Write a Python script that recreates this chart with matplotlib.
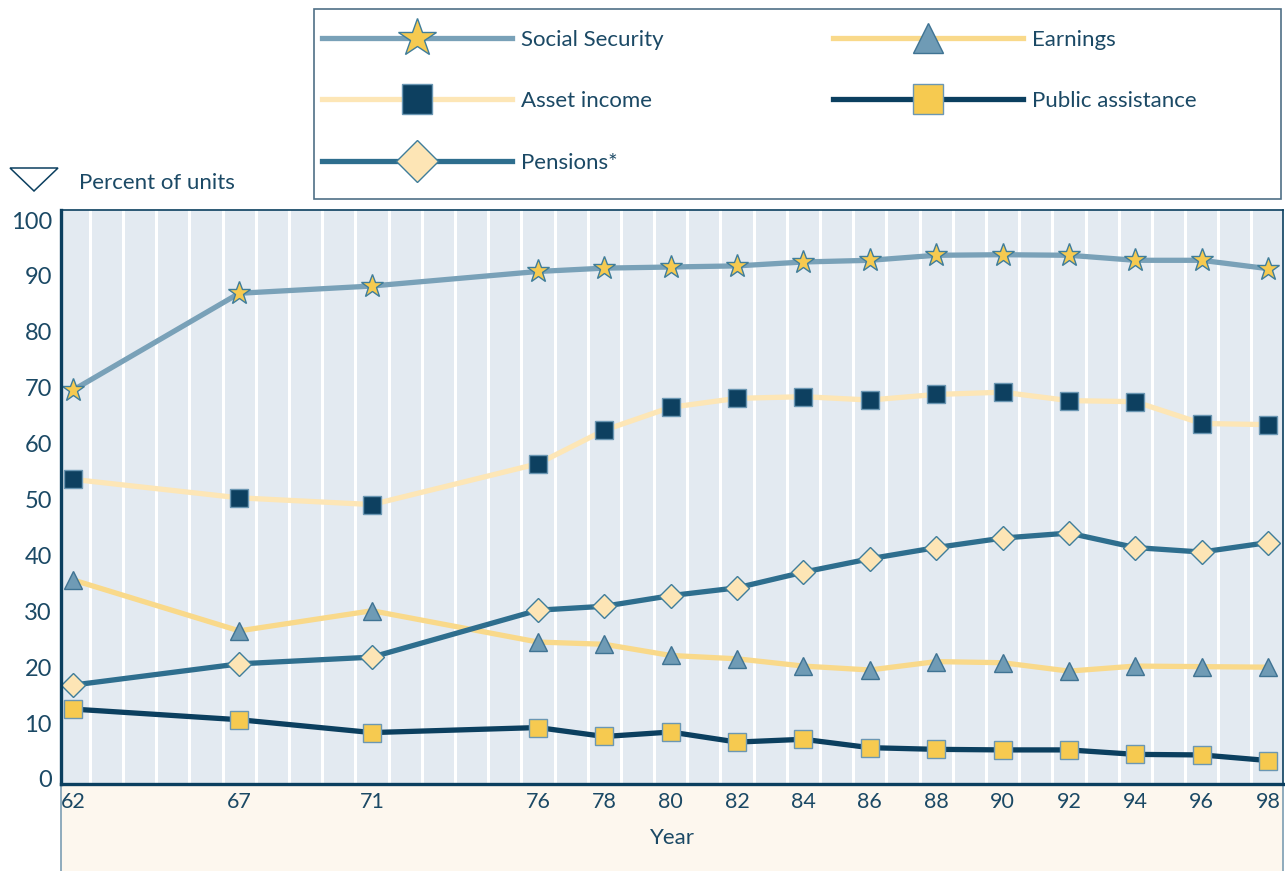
import matplotlib.pyplot as plt
import numpy as np
from matplotlib.patches import Polygon, Rectangle

# data (percent of aged units with income from each source)
years = [62, 67, 71, 76, 78, 80, 82, 84, 86, 88, 90, 92, 94, 96, 98]
social_security = [69.6, 86.9, 88.2, 90.8, 91.4, 91.6, 91.8, 92.5, 92.8, 93.7, 93.8, 93.7, 92.8, 92.8, 91.3]
earnings = [35.6, 26.5, 30.1, 24.5, 24.1, 22.1, 21.5, 20.2, 19.5, 21.0, 20.8, 19.3, 20.2, 20.1, 20.0]
asset_income = [53.6, 50.3, 49.1, 56.4, 62.4, 66.5, 68.1, 68.4, 67.8, 68.8, 69.2, 67.7, 67.5, 63.6, 63.4]
public_assistance = [12.5, 10.6, 8.3, 9.2, 7.6, 8.4, 6.6, 7.1, 5.6, 5.3, 5.2, 5.2, 4.4, 4.3, 3.3]
pensions = [16.8, 20.6, 21.8, 30.2, 30.9, 32.8, 34.2, 37.0, 39.4, 41.4, 43.1, 44.0, 41.4, 40.6, 42.3]

texto = '#1b4965'
navy = '#0b3f5f'
plt.rcParams['font.family'] = ['Lato', 'DejaVu Sans']

W, H = 1285, 871
fig = plt.figure(figsize=(W / 100, H / 100), dpi=100)

# zona beige debajo del grafico
ax_bot = fig.add_axes([61 / W, 0, 1222 / W, 85 / H])
ax_bot.set_facecolor('#fdf7ee')
ax_bot.set_xticks([])
ax_bot.set_yticks([])
for lado in ['top', 'bottom']:
    ax_bot.spines[lado].set_visible(False)
for lado in ['left', 'right']:
    ax_bot.spines[lado].set_color('#7c9db3')
    ax_bot.spines[lado].set_linewidth(1.2)
ax_bot.set_zorder(0)

ax = fig.add_axes([61 / W, 87 / H, 1222 / W, 574 / H])
ax.set_zorder(1)
ax.set_facecolor('#e3eaf1')

lw = 3.8
l_asset, = ax.plot(years, asset_income, color='#fde6b6', lw=lw, marker='s', ms=13,
                   markerfacecolor='#0d4060', markeredgecolor='#6b97b3', markeredgewidth=1.0)
l_earn, = ax.plot(years, earnings, color='#f9d98a', lw=lw, marker='^', ms=12.5,
                  markerfacecolor='#6f9bb5', markeredgecolor='#3f7393', markeredgewidth=1.0)
l_pens, = ax.plot(years, pensions, color='#2e6e8e', lw=lw, marker='D', ms=12.5,
                  markerfacecolor='#fde5b5', markeredgecolor='#3f7d9a', markeredgewidth=1.0)
l_pub, = ax.plot(years, public_assistance, color=navy, lw=lw, marker='s', ms=13,
                 markerfacecolor='#f6ca50', markeredgecolor='#6b97b3', markeredgewidth=1.0)
l_ss, = ax.plot(years, social_security, color='#79a1b8', lw=lw, marker='*', ms=17,
                markerfacecolor='#f6ca50', markeredgecolor='#3f7d9a', markeredgewidth=1.0)

ax.set_xlim(61.63, 98.45)
ax.set_ylim(-0.9, 101.8)
ax.set_xticks(years)
ax.set_xticks(np.arange(62.5, 98, 1), minor=True)
ax.set_yticks(np.arange(0, 101, 10))
ax.grid(True, which='minor', axis='x', color='white', lw=2.2)
ax.set_axisbelow(True)
ax.tick_params(which='both', length=0)
ax.tick_params(axis='y', pad=6.5, labelsize=17, labelcolor=texto)
ax.tick_params(axis='x', pad=6, labelsize=15.5, labelcolor=texto)

for lado in ['left', 'bottom']:
    ax.spines[lado].set_color(navy)
    ax.spines[lado].set_linewidth(2.4)
for lado in ['top', 'right']:
    ax.spines[lado].set_color(navy)
    ax.spines[lado].set_linewidth(1.2)

fig.text(672 / W, 1 - 838 / H, 'Year', ha='center', va='center', fontsize=16, color=texto)
fig.text(79 / W, 1 - 183 / H, 'Percent of units', ha='left', va='center', fontsize=16, color=texto)
tri = Polygon([[10 / W, 1 - 168 / H], [58 / W, 1 - 168 / H], [34 / W, 1 - 191 / H]],
              closed=True, transform=fig.transFigure, facecolor='white', edgecolor=navy, lw=1.1)
fig.patches.append(tri)

# cuadro de la leyenda
marco = Rectangle((314 / W, 1 - 199 / H), 967 / W, 190 / H, transform=fig.transFigure,
                  facecolor='white', edgecolor='#4f6f86', lw=1.2)
fig.patches.append(marco)

opciones = dict(loc='upper left', frameon=False, fontsize=16, handlelength=8.55,
                handletextpad=0.42, labelspacing=1.87, borderpad=0, borderaxespad=0,
                markerscale=1.7, labelcolor=texto)
fig.legend([l_ss, l_asset, l_pens], ['Social Security', 'Asset income', 'Pensions*'],
           bbox_to_anchor=(322 / W, 1 - 29.5 / H), **opciones)
fig.legend([l_earn, l_pub], ['Earnings', 'Public assistance'],
           bbox_to_anchor=(833 / W, 1 - 29.5 / H), **opciones)

plt.savefig('out.png', dpi=100)
